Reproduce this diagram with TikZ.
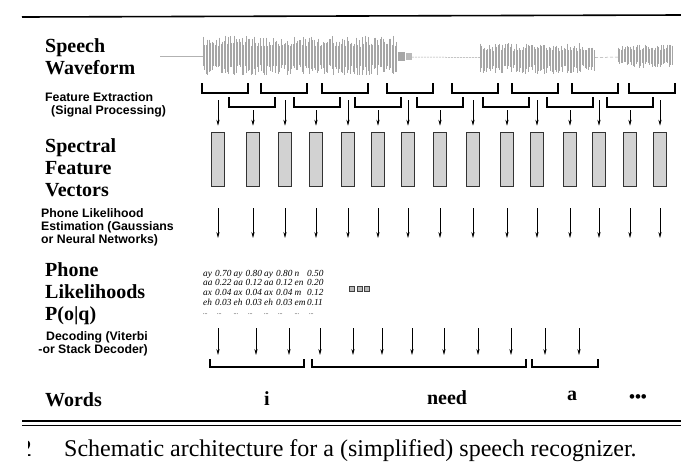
\documentclass[tikz,border=0pt]{standalone}
\usepackage{fontspec}
\setmainfont{Liberation Serif}
\setsansfont{Liberation Sans}
\usetikzlibrary{arrows.meta}
\begin{document}
\begin{tikzpicture}[x=1pt,y=-1pt,
  biglabel/.style={font=\fontsize{20}{22}\selectfont\bfseries, align=left, anchor=north west, inner sep=0pt},
  smalllabel/.style={font=\sffamily\bfseries\fontsize{12.3}{13.2}\selectfont, align=left, anchor=north west, inner sep=0pt},
  vec/.style={draw=black!80, fill=gray!35, line width=0.6pt, minimum width=12.5pt, minimum height=54pt, inner sep=0pt},
  arr/.style={-{Stealth[length=6pt,width=3.2pt]}, line width=0.6pt},
  brk/.style={line width=1.1pt},
  cell/.style={font=\fontsize{9.3}{9.7}\selectfont\itshape, anchor=base west, inner sep=0pt},
  dots/.style={font=\fontsize{6}{7}\selectfont, anchor=base west, inner sep=0pt},
  word/.style={font=\fontsize{20}{22}\selectfont\bfseries, anchor=base, inner sep=0pt},
  wave/.style={gray!70, line width=0.4pt},
  capfont/.style={font=\fontsize{24}{26}\selectfont, inner sep=0pt},
]
\useasboundingbox (0,0) rectangle (681,464);
\fill[white] (0,0) rectangle (681,464);
% rules
\draw[line width=1.6pt] (22,17) -- (681,15);
\draw[line width=1.4pt] (22,421) -- (681,421);
\draw[line width=0.7pt] (22,425) -- (681,425);

% left labels
\node[biglabel] (sw) at (45,38) {Speech\\Waveform};
\node[smalllabel] (fe) at (45,92) {Feature Extraction\\\hspace*{6pt}(Signal Processing)};
\node[biglabel] (sfv) at (45,138) {Spectral\\Feature\\Vectors};
\node[smalllabel] (ple) at (41,208) {Phone Likelihood\\Estimation (Gaussians\\or Neural Networks)};
\node[biglabel] (pl) at (45,262) {Phone\\Likelihoods\\P(o|q)};
\node[smalllabel, align=right, anchor=north east] (dec) at (148,331) {Decoding (Viterbi\\-or Stack Decoder)};
\node[word, anchor=base west] (words) at (45,406) {Words};

% waveform
\draw[gray!60, line width=0.4pt] (160,56) -- (203,56);
\pgfmathsetseed{7}
\foreach \x in {203,204.5,...,397}{
  \pgfmathsetmacro\u{20*(0.45+0.55*rnd)}
  \pgfmathsetmacro\d{20*(0.45+0.55*rnd)}
  \draw[wave] (\x,55.5-\u) -- (\x,55.5+\d);
}
\fill[gray!70] (398,52) rectangle (404.5,61);
\fill[gray!55] (405.5,53) rectangle (412,60);
\draw[gray!70, line width=0.5pt, dash pattern=on 2pt off 1pt] (412,57) -- (480,57.5);
\foreach \x in {480,481.5,...,595}{
  \pgfmathsetmacro\u{15*(0.45+0.55*rnd)}
  \pgfmathsetmacro\d{16*(0.45+0.55*rnd)}
  \draw[wave] (\x,58-\u) -- (\x,58+\d);
}
\draw[gray!70, line width=0.5pt, dash pattern=on 3pt off 2pt] (595,57.5) -- (618,57);
\foreach \x in {618,619.5,...,672}{
  \pgfmathsetmacro\u{12*(0.45+0.55*rnd)}
  \pgfmathsetmacro\d{12*(0.45+0.55*rnd)}
  \draw[wave] (\x,56-\u) -- (\x,56+\d);
}

% analysis windows
\foreach \x in {202,261,322,387,452,512,572,629}{
  \draw[brk] (\x,83) -- (\x,93) -- (\x+46,93) -- (\x+46,83);
}
\foreach \x in {229,294,355,417,483,547,607}{
  \draw[brk] (\x,97) -- (\x,107) -- (\x+46,107) -- (\x+46,97);
}

% feature vectors and arrows
\foreach \x [count=\i] in {218,253,285,316,348,378,408,440,473,507,537,570,599,630,660}{
  \node[vec] (v\i) at (\x,159) {};
  \pgfmathsetmacro\ys{ifthenelse(isodd(\i),100,110)}
  \coordinate (w\i) at (\x,\ys);
  \draw[arr, shorten >=6pt] (w\i) -- (v\i.north);
  \coordinate (p\i) at (\x,238);
  \draw[arr, shorten <=22pt] (v\i.south) -- (p\i);
}

% phone likelihood table
\foreach \ph/\nu [count=\r] in {ay/0.70,aa/0.22,ax/0.04,eh/0.03}{
  \node[cell] at (203,266.3+9.7*\r) {\ph};
  \node[cell] at (215,266.3+9.7*\r) {\nu};
}
\foreach \ph/\nu [count=\r] in {ay/0.80,aa/0.12,ax/0.04,eh/0.03}{
  \node[cell] at (233.5,266.3+9.7*\r) {\ph};
  \node[cell] at (245.5,266.3+9.7*\r) {\nu};
  \node[cell] at (264,266.3+9.7*\r) {\ph};
  \node[cell] at (276,266.3+9.7*\r) {\nu};
}
\foreach \ph/\nu [count=\r] in {n/0.50,en/0.20,m/0.12,em/0.11}{
  \node[cell] at (294.5,266.3+9.7*\r) {\ph};
  \node[cell] at (307,266.3+9.7*\r) {\nu};
}
\foreach \x in {203,217,233.5,248,264,278,294.5,309}{
  \node[dots] at (\x,314) {...};
}
\foreach \x in {352,359.5,367}{
  \filldraw[fill=gray!55, draw=black!75, line width=0.5pt] (\x-2.4,286.6) rectangle (\x+2.4,291.4);
}

% decoding arrows
\foreach \x [count=\i] in {218,256,289,320,353,382,412,444,478,511,545,579}{
  \coordinate (d\i) at (\x,328);
  \coordinate (e\i) at (\x,355);
  \draw[arr] (d\i) -- (e\i);
}
% word brackets
\draw[brk] (210,359) -- (210,367) -- (304,367) -- (304,359);
\draw[brk] (312,359) -- (312,367) -- (526,367) -- (526,359);
\draw[brk] (532,359) -- (532,367) -- (598,367) -- (598,359);

% words
\node[word] (wi) at (267,405) {i};
\node[word] (wneed) at (447,404) {need};
\node[word] (wa) at (572,400) {a};
\node[word, font=\fontsize{17}{20}\selectfont\bfseries] (wdots) at (638,402) {•••};

% caption
\begin{scope}
  \clip (28.5,430) rectangle (32,464);
  \node[capfont, anchor=base east] (fig) at (32,456) {2};
\end{scope}
\node[capfont, anchor=base west] (cap) at (64,456) {Schematic architecture for a (simplified) speech recognizer.};
\end{tikzpicture}
\end{document}
